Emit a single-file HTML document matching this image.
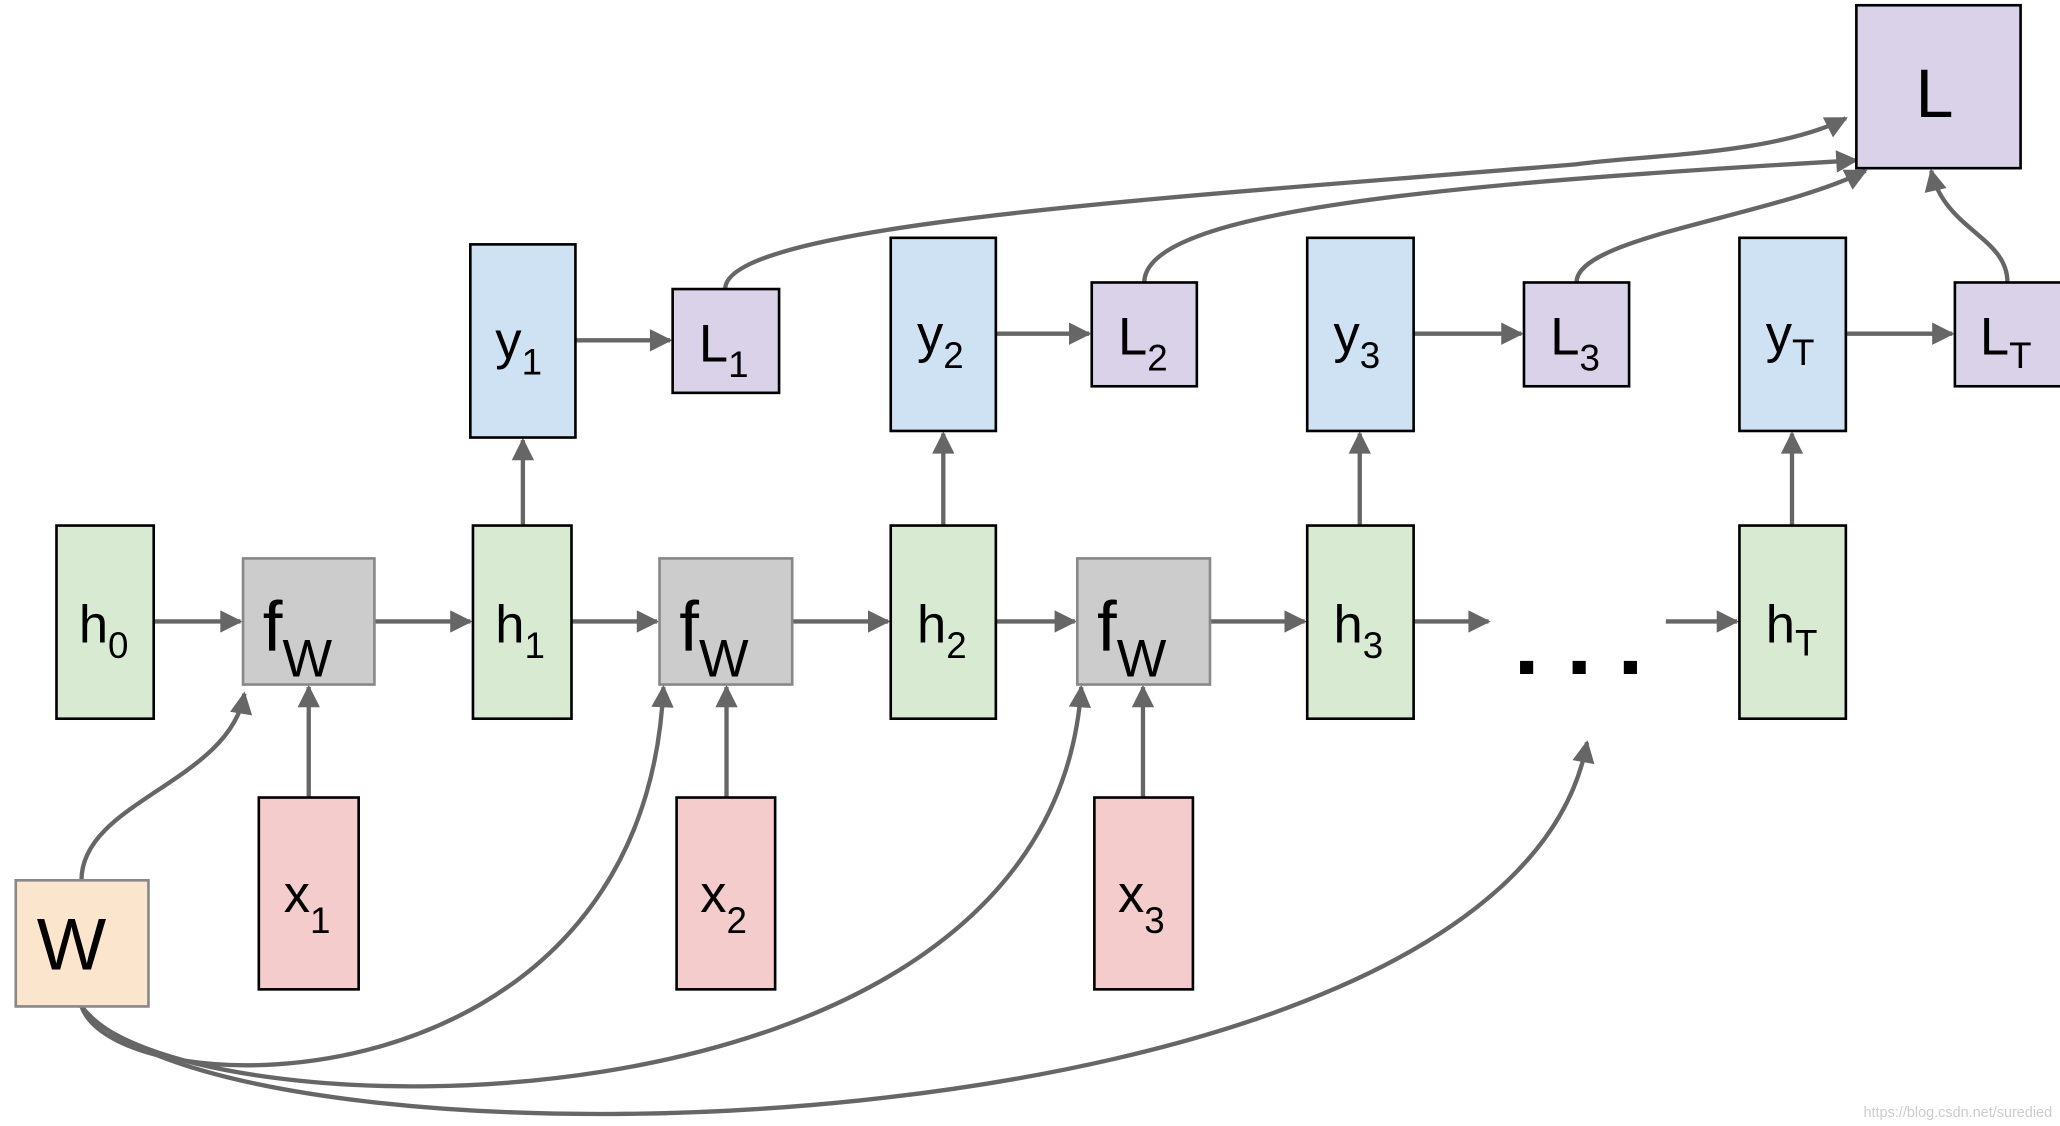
<!DOCTYPE html>
<html><head><style>html,body{margin:0;padding:0;background:#fff}svg{display:block}</style></head>
<body>
<svg width="2060" height="1126" viewBox="0 0 1568 857" preserveAspectRatio="none" xmlns="http://www.w3.org/2000/svg" font-family="Liberation Sans, Arial, sans-serif">
<defs>
<marker id="b" viewBox="0 0 10 10" refX="9" refY="5" markerWidth="22" markerHeight="17" markerUnits="userSpaceOnUse" orient="auto"><path d="M0,0L10,5L0,10z" fill="#666"/></marker>
</defs>
<g stroke="#666" stroke-width="3.3" fill="none" marker-end="url(#b)">
<path d="M117,473H183"/><path d="M285,473H358"/><path d="M435,473H500"/><path d="M603,473H676"/><path d="M758,473H818"/><path d="M921,473H993"/><path d="M1076,473H1133"/><path d="M1268,473H1322"/>
<path d="M398,400V335"/><path d="M718,400V330"/><path d="M1035,400V330"/><path d="M1364,400V330"/>
<path d="M438,259H510"/><path d="M758,254H829"/><path d="M1076,254H1158"/><path d="M1405,254H1486"/>
<path d="M235,607V523"/><path d="M553,607V523"/><path d="M870,607V523"/>
<path d="M62,670C62,610 175,595 186,528"/>
<path d="M62,766C90,845 490,850 505,523"/>
<path d="M62,766C130,865 800,880 823,523"/>
<path d="M62,766C170,905 1150,885 1208,565"/>
<path d="M552,220C552,170 900,150 1200,125C1250,118 1350,118 1405,90"/>
<path d="M871,215C871,160 1100,140 1413,122"/>
<path d="M1200,215C1200,180 1350,165 1420,130"/>
<path d="M1528,215C1528,180 1480,175 1470,130"/>
</g>
<g stroke="#000" stroke-width="2">
<rect x="43" y="400" width="74" height="147" fill="#d9ead3"/>
<rect x="360" y="400" width="75" height="147" fill="#d9ead3"/>
<rect x="678" y="400" width="80" height="147" fill="#d9ead3"/>
<rect x="995" y="400" width="81" height="147" fill="#d9ead3"/>
<rect x="1324" y="400" width="81" height="147" fill="#d9ead3"/>
<rect x="358" y="186" width="80" height="147" fill="#cfe2f3"/>
<rect x="678" y="181" width="80" height="147" fill="#cfe2f3"/>
<rect x="995" y="181" width="81" height="147" fill="#cfe2f3"/>
<rect x="1324" y="181" width="81" height="147" fill="#cfe2f3"/>
<rect x="512" y="220" width="81" height="79" fill="#d9d2e9"/>
<rect x="831" y="215" width="80" height="79" fill="#d9d2e9"/>
<rect x="1160" y="215" width="80" height="79" fill="#d9d2e9"/>
<rect x="1488" y="215" width="82" height="79" fill="#d9d2e9"/>
<rect x="1413" y="4" width="125" height="124" fill="#d9d2e9"/>
<rect x="197" y="607" width="76" height="146" fill="#f4cccc"/>
<rect x="515" y="607" width="75" height="146" fill="#f4cccc"/>
<rect x="833" y="607" width="75" height="146" fill="#f4cccc"/>
</g>
<g stroke="#888" stroke-width="2">
<rect x="185" y="425" width="100" height="96" fill="#cccccc"/>
<rect x="502" y="425" width="101" height="96" fill="#cccccc"/>
<rect x="820" y="425" width="101" height="96" fill="#cccccc"/>
<rect x="12" y="670" width="101" height="96" fill="#fce5cd"/>
</g>
<g fill="#000" font-size="40">
<text x="60" y="489">h<tspan font-size="28" dy="12">0</tspan></text>
<text x="377" y="489">h<tspan font-size="28" dy="12">1</tspan></text>
<text x="698" y="489">h<tspan font-size="28" dy="12">2</tspan></text>
<text x="1015" y="489">h<tspan font-size="28" dy="12">3</tspan></text>
<text x="1344" y="489">h<tspan font-size="28" dy="10">T</tspan></text>
<text x="377" y="273">y<tspan font-size="28" dy="12">1</tspan></text>
<text x="698" y="268">y<tspan font-size="28" dy="12">2</tspan></text>
<text x="1015" y="268">y<tspan font-size="28" dy="12">3</tspan></text>
<text x="1344" y="268">y<tspan font-size="28" dy="10">T</tspan></text>
<text x="532" y="275">L<tspan font-size="28" dy="12">1</tspan></text>
<text x="851" y="270">L<tspan font-size="28" dy="12">2</tspan></text>
<text x="1180" y="270">L<tspan font-size="28" dy="12">3</tspan></text>
<text x="1507" y="270">L<tspan font-size="28" dy="10">T</tspan></text>
<text x="216" y="694">x<tspan font-size="28" dy="16">1</tspan></text>
<text x="533" y="694">x<tspan font-size="28" dy="16">2</tspan></text>
<text x="851" y="694">x<tspan font-size="28" dy="16">3</tspan></text>
<text x="1458" y="89" font-size="52">L</text>
<text x="28" y="738" font-size="56">W</text>
<text x="200" y="495" font-size="54">f<tspan font-size="40" dy="20">W</tspan></text>
<text x="517" y="495" font-size="54">f<tspan font-size="40" dy="20">W</tspan></text>
<text x="835" y="495" font-size="54">f<tspan font-size="40" dy="20">W</tspan></text>
</g>
<g fill="#000"><rect x="1157" y="503" width="10" height="10"/><rect x="1197" y="503" width="10" height="10"/><rect x="1236" y="503" width="10" height="10"/></g>
<text x="1562" y="850" font-size="11" fill="#ccc" text-anchor="end">https://blog.csdn.net/suredied</text>
</svg>
</body></html>
